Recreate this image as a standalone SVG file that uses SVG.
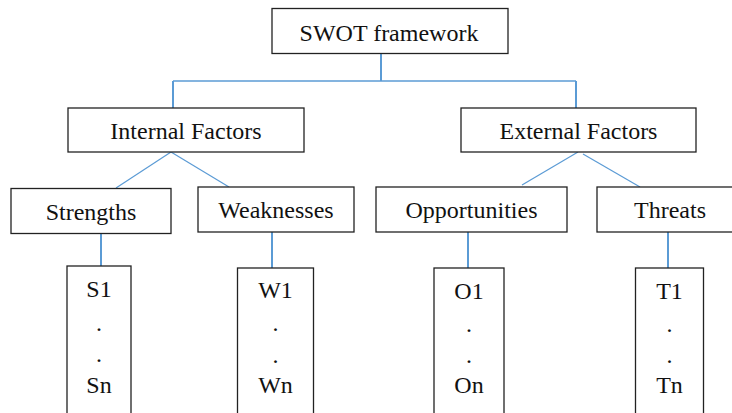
<svg xmlns="http://www.w3.org/2000/svg" width="732" height="413" viewBox="0 0 732 413">
<style>
.box{fill:#fff;stroke:#222;stroke-width:1.3}
.t{font-family:"Liberation Serif","Times New Roman",serif;font-size:24px;fill:#111;text-anchor:middle}
.c{stroke:#5b9bd5;fill:none}
.v{stroke-width:2}
.d{stroke-width:1.2}
</style>
<rect width="732" height="413" fill="#fff"/>
<g id="connectors">
<line class="c v" x1="381" y1="53" x2="381" y2="81"/>
<line class="c" stroke-width="1.6" x1="173" y1="81" x2="576" y2="81"/>
<line class="c v" x1="173" y1="81" x2="173" y2="108"/>
<line class="c v" x1="576" y1="81" x2="576" y2="108"/>
<line class="c d" x1="171" y1="152" x2="116" y2="188"/>
<line class="c d" x1="171" y1="152" x2="229" y2="187"/>
<line class="c d" x1="578" y1="152" x2="522" y2="185"/>
<line class="c d" x1="583" y1="154" x2="640" y2="187"/>
<line class="c v" x1="101" y1="233" x2="101" y2="266"/>
<line class="c v" x1="272" y1="232" x2="272" y2="268"/>
<line class="c v" x1="468" y1="232" x2="468" y2="268"/>
<line class="c v" x1="668" y1="232" x2="668" y2="268"/>
</g>
<g id="swot">
<rect class="box" x="272" y="8.5" width="236" height="45"/>
<text class="t" x="389" y="41">SWOT framework</text>
</g>
<g id="internal">
<rect class="box" x="68" y="108" width="236" height="44"/>
<text class="t" x="186" y="139">Internal Factors</text>
</g>
<g id="external">
<rect class="box" x="461" y="108" width="235" height="44"/>
<text class="t" x="578.5" y="139">External Factors</text>
</g>
<g id="strengths">
<rect class="box" x="11" y="188.5" width="160" height="45"/>
<text class="t" x="91" y="220">Strengths</text>
</g>
<g id="weaknesses">
<rect class="box" x="198" y="187" width="156" height="45"/>
<text class="t" x="276" y="217.5">Weaknesses</text>
</g>
<g id="opportunities">
<rect class="box" x="376" y="187" width="191" height="45"/>
<text class="t" x="471.5" y="217.5">Opportunities</text>
</g>
<g id="threats">
<rect class="box" x="597" y="187" width="146" height="45"/>
<text class="t" x="670" y="217.5">Threats</text>
</g>
<g id="s-list">
<rect class="box" x="67" y="266" width="64" height="160"/>
<text class="t" x="99" y="297">S1</text>
<text class="t" x="99" y="331">.</text>
<text class="t" x="99" y="362">.</text>
<text class="t" x="99" y="393">Sn</text>
</g>
<g id="w-list">
<rect class="box" x="237.5" y="268" width="76" height="160"/>
<text class="t" x="275.5" y="298">W1</text>
<text class="t" x="275.5" y="331">.</text>
<text class="t" x="275.5" y="363">.</text>
<text class="t" x="275.5" y="393">Wn</text>
</g>
<g id="o-list">
<rect class="box" x="434" y="268" width="70" height="160"/>
<text class="t" x="469" y="299">O1</text>
<text class="t" x="469" y="332">.</text>
<text class="t" x="469" y="363">.</text>
<text class="t" x="469" y="393">On</text>
</g>
<g id="t-list">
<rect class="box" x="635.5" y="268" width="68" height="160"/>
<text class="t" x="669.5" y="299">T1</text>
<text class="t" x="669.5" y="332">.</text>
<text class="t" x="669.5" y="363">.</text>
<text class="t" x="669.5" y="393">Tn</text>
</g>
</svg>
